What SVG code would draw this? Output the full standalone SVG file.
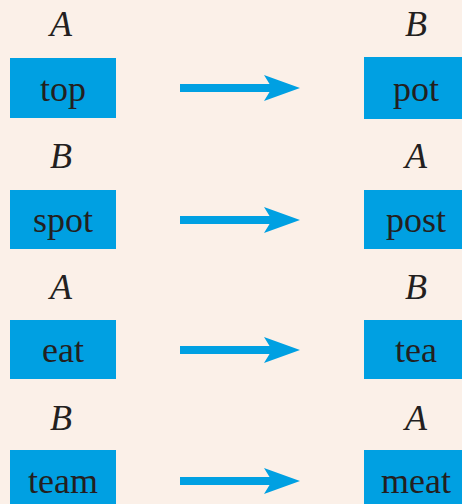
<svg xmlns="http://www.w3.org/2000/svg" width="462" height="504" viewBox="0 0 462 504">
<defs>
<style>
.box{fill:#00A0E2}
.shaft{stroke:#00A0E2;stroke-width:8;fill:none}
.head{fill:#00A0E2}
</style>
<path id="ah" class="head" d="M300,0 L264,-13 L272,0 L264,13 Z"/>
</defs>
<rect width="462" height="504" fill="#FBF0E8"/>
<g id="row1-left"><text font-family="Liberation Serif" font-size="36" font-style="italic" fill="#231F20" text-anchor="middle" x="61" y="36">A</text><rect class="box" x="10" y="58" width="106" height="60"/><text font-family="Liberation Serif" font-size="36" fill="#231F20" text-anchor="middle" x="63" y="101">top</text></g>
<g id="row1-right"><text font-family="Liberation Serif" font-size="36" font-style="italic" fill="#231F20" text-anchor="middle" x="416" y="36">B</text><rect class="box" x="364" y="57" width="98" height="62"/><text font-family="Liberation Serif" font-size="36" fill="#231F20" text-anchor="middle" x="416" y="101">pot</text></g>

<g id="row2-left"><text font-family="Liberation Serif" font-size="36" font-style="italic" fill="#231F20" text-anchor="middle" x="61" y="168">B</text><rect class="box" x="10" y="190" width="106" height="59"/><text font-family="Liberation Serif" font-size="36" fill="#231F20" text-anchor="middle" x="63" y="232">spot</text></g>
<g id="row2-right"><text font-family="Liberation Serif" font-size="36" font-style="italic" fill="#231F20" text-anchor="middle" x="416" y="168">A</text><rect class="box" x="364" y="190" width="98" height="59"/><text font-family="Liberation Serif" font-size="36" fill="#231F20" text-anchor="middle" x="416" y="232">post</text></g>

<g id="row3-left"><text font-family="Liberation Serif" font-size="36" font-style="italic" fill="#231F20" text-anchor="middle" x="61" y="299">A</text><rect class="box" x="10" y="320" width="106" height="59"/><text font-family="Liberation Serif" font-size="36" fill="#231F20" text-anchor="middle" x="63" y="362">eat</text></g>
<g id="row3-right"><text font-family="Liberation Serif" font-size="36" font-style="italic" fill="#231F20" text-anchor="middle" x="416" y="299">B</text><rect class="box" x="364" y="320" width="98" height="59"/><text font-family="Liberation Serif" font-size="36" fill="#231F20" text-anchor="middle" x="416" y="362">tea</text></g>

<g id="row4-left"><text font-family="Liberation Serif" font-size="36" font-style="italic" fill="#231F20" text-anchor="middle" x="61" y="430">B</text><rect class="box" x="10" y="450" width="106" height="60"/><text font-family="Liberation Serif" font-size="36" fill="#231F20" text-anchor="middle" x="63" y="493">team</text></g>
<g id="row4-right"><text font-family="Liberation Serif" font-size="36" font-style="italic" fill="#231F20" text-anchor="middle" x="416" y="430">A</text><rect class="box" x="364" y="450" width="98" height="60"/><text font-family="Liberation Serif" font-size="36" fill="#231F20" text-anchor="middle" x="416" y="493">meat</text></g>

<g id="connectors">
<line class="shaft" x1="180" y1="88" x2="274" y2="88"/><use href="#ah" y="88"/>
<line class="shaft" x1="180" y1="220" x2="274" y2="220"/><use href="#ah" y="220"/>
<line class="shaft" x1="180" y1="350" x2="274" y2="350"/><use href="#ah" y="350"/>
<line class="shaft" x1="180" y1="481" x2="274" y2="481"/><use href="#ah" y="481"/>
</g>
</svg>
